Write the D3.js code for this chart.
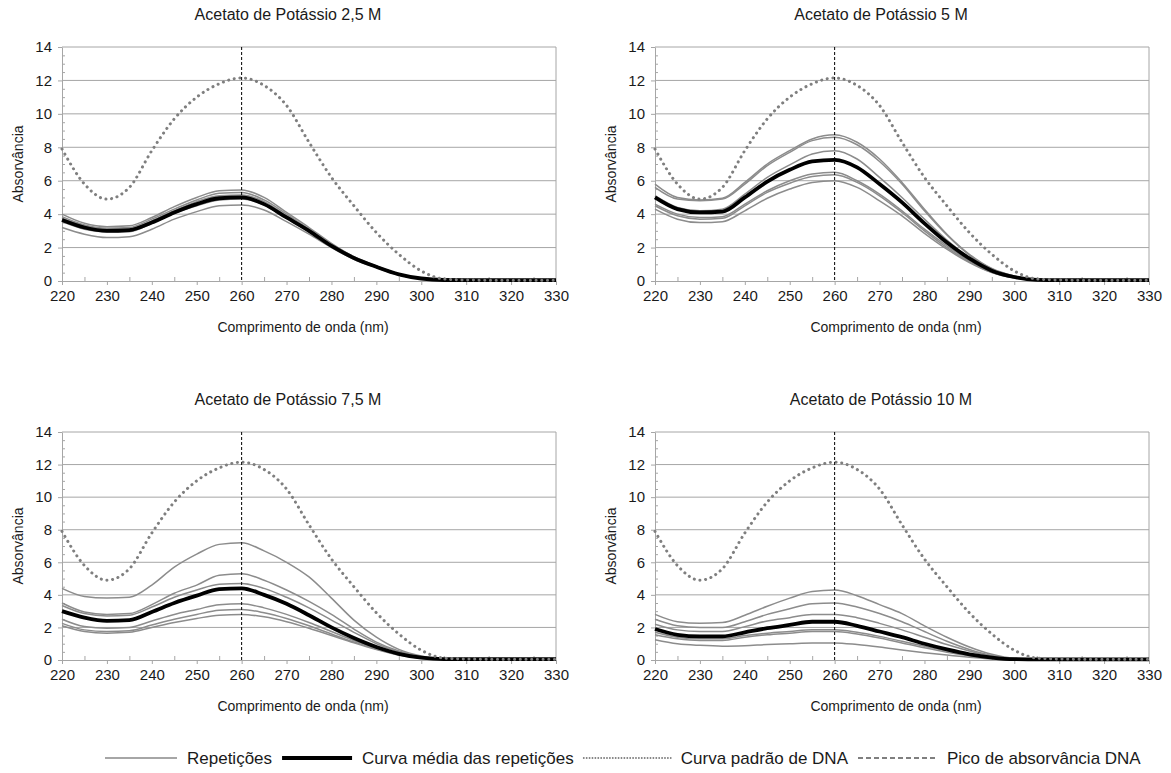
<!DOCTYPE html>
<html>
<head>
<meta charset="utf-8">
<script src="https://cdn.jsdelivr.net/npm/d3@7"></script>
<style>
  body { margin: 0; background: #fff; }
  svg { display: block; }
  text { font-family: "Liberation Sans", Arial, sans-serif; fill: #1a1a1a; }
</style>
</head>
<body>
<svg id="chart" width="1171" height="773"></svg>
<script>
// Wavelength grid (nm) and axis ticks
const wavelengths = [220, 225, 230, 235, 240, 245, 250, 255, 260, 265, 270, 275,
                     280, 285, 290, 295, 300, 305, 310, 315, 320, 325, 330];
const xTicks = [220, 230, 240, 250, 260, 270, 280, 290, 300, 310, 320, 330];
const yTicks = [0, 2, 4, 6, 8, 10, 12, 14];
const peakWavelength = 260;

// DNA standard absorbance curve (same in every panel)
const dnaStandard = [7.9, 5.8, 4.9, 5.6, 7.8, 9.7, 11.0, 11.8, 12.15, 11.7, 10.5, 8.3,
                     6.2, 4.5, 2.9, 1.6, 0.6, 0.12, 0.06, 0.05, 0.05, 0.05, 0.05];

// Potassium acetate 2.5 M
const reps25 = [
  [4.0, 3.45, 3.25, 3.3, 3.8, 4.45, 5.0, 5.4, 5.45, 5.0, 4.1, 3.2, 2.25, 1.45, 0.9, 0.42, 0.16, 0.06, 0.05, 0.05, 0.05, 0.05, 0.05],
  [3.85, 3.35, 3.15, 3.2, 3.7, 4.3, 4.85, 5.25, 5.3, 4.85, 4.0, 3.1, 2.2, 1.42, 0.88, 0.41, 0.15, 0.06, 0.05, 0.05, 0.05, 0.05, 0.05],
  [3.75, 3.3, 3.1, 3.1, 3.6, 4.2, 4.75, 5.1, 5.15, 4.75, 3.9, 3.05, 2.15, 1.4, 0.86, 0.4, 0.15, 0.06, 0.05, 0.05, 0.05, 0.05, 0.05],
  [3.55, 3.1, 2.95, 2.95, 3.45, 4.05, 4.5, 4.85, 4.9, 4.55, 3.75, 2.95, 2.05, 1.35, 0.83, 0.38, 0.14, 0.05, 0.05, 0.05, 0.05, 0.05, 0.05],
  [3.2, 2.8, 2.6, 2.65, 3.1, 3.7, 4.15, 4.5, 4.55, 4.25, 3.55, 2.8, 2.0, 1.3, 0.8, 0.36, 0.13, 0.05, 0.04, 0.04, 0.04, 0.04, 0.04]
];
const mean25 = [3.65, 3.2, 3.0, 3.05, 3.5, 4.1, 4.6, 4.95, 5.0, 4.6, 3.8, 3.0, 2.1, 1.38, 0.85, 0.4, 0.15, 0.06, 0.05, 0.05, 0.05, 0.05, 0.05];

// Potassium acetate 5 M
const reps5 = [
  [5.8, 5.0, 4.85, 4.95, 5.9, 7.0, 7.8, 8.5, 8.75, 8.3, 7.3, 5.9, 4.3, 2.8, 1.6, 0.75, 0.3, 0.08, 0.05, 0.05, 0.05, 0.05, 0.05],
  [5.6, 4.9, 4.8, 4.9, 5.8, 6.9, 7.7, 8.4, 8.6, 8.15, 7.15, 5.8, 4.2, 2.75, 1.55, 0.72, 0.28, 0.08, 0.05, 0.05, 0.05, 0.05, 0.05],
  [5.1, 4.4, 4.2, 4.3, 5.2, 6.2, 6.95, 7.6, 7.8, 7.3, 6.2, 5.0, 3.7, 2.45, 1.4, 0.65, 0.25, 0.07, 0.05, 0.05, 0.05, 0.05, 0.05],
  [4.6, 4.0, 3.8, 3.85, 4.6, 5.4, 6.0, 6.4, 6.5, 6.0, 5.2, 4.2, 3.1, 2.1, 1.2, 0.55, 0.2, 0.06, 0.05, 0.05, 0.05, 0.05, 0.05],
  [4.5, 3.9, 3.7, 3.75, 4.5, 5.3, 5.85, 6.25, 6.35, 5.9, 5.1, 4.1, 3.0, 2.0, 1.15, 0.52, 0.2, 0.06, 0.05, 0.05, 0.05, 0.05, 0.05],
  [4.3, 3.7, 3.5, 3.55, 4.2, 4.95, 5.5, 5.9, 6.0, 5.6, 4.8, 3.9, 2.85, 1.9, 1.1, 0.5, 0.18, 0.05, 0.04, 0.04, 0.04, 0.04, 0.04]
];
const mean5 = [5.0, 4.3, 4.1, 4.15, 5.0, 5.95, 6.65, 7.15, 7.25, 6.8, 5.8, 4.7, 3.45, 2.3, 1.35, 0.62, 0.24, 0.07, 0.05, 0.05, 0.05, 0.05, 0.05];

// Potassium acetate 7.5 M
const reps75 = [
  [4.4, 3.9, 3.8, 3.85, 4.6, 5.7, 6.5, 7.1, 7.2, 6.7, 6.0, 5.1, 3.8, 2.45, 1.4, 0.65, 0.25, 0.07, 0.05, 0.05, 0.05, 0.05, 0.05],
  [3.5, 2.95, 2.8, 2.85, 3.4, 4.1, 4.6, 5.2, 5.3, 4.9, 4.3, 3.6, 2.8, 1.9, 1.1, 0.55, 0.2, 0.06, 0.05, 0.05, 0.05, 0.05, 0.05],
  [3.35, 2.85, 2.7, 2.75, 3.25, 3.85, 4.3, 4.65, 4.7, 4.4, 3.85, 3.2, 2.45, 1.7, 1.0, 0.5, 0.18, 0.06, 0.05, 0.05, 0.05, 0.05, 0.05],
  [2.5, 2.05, 1.95, 2.0, 2.4, 2.8, 3.1, 3.4, 3.45, 3.2, 2.8, 2.3, 1.75, 1.2, 0.75, 0.35, 0.13, 0.05, 0.04, 0.04, 0.04, 0.04, 0.04],
  [2.25, 1.85, 1.75, 1.8, 2.15, 2.5, 2.8, 3.05, 3.1, 2.9, 2.55, 2.1, 1.6, 1.1, 0.68, 0.32, 0.12, 0.05, 0.04, 0.04, 0.04, 0.04, 0.04],
  [2.1, 1.75, 1.65, 1.7, 2.0, 2.3, 2.55, 2.75, 2.8, 2.65, 2.35, 1.95, 1.5, 1.05, 0.64, 0.3, 0.11, 0.04, 0.04, 0.04, 0.04, 0.04, 0.04]
];
const mean75 = [3.0, 2.6, 2.4, 2.45, 2.95, 3.5, 3.95, 4.35, 4.4, 4.0, 3.45, 2.75, 2.0, 1.35, 0.8, 0.38, 0.14, 0.05, 0.05, 0.05, 0.05, 0.05, 0.05];

// Potassium acetate 10 M
const reps10 = [
  [2.8, 2.35, 2.25, 2.3, 2.75, 3.3, 3.8, 4.2, 4.3, 3.95, 3.4, 2.85, 2.1, 1.4, 0.8, 0.35, 0.1, 0.05, 0.04, 0.04, 0.04, 0.04, 0.04],
  [2.5, 2.1, 2.0, 2.0, 2.35, 2.8, 3.15, 3.45, 3.5, 3.25, 2.85, 2.35, 1.75, 1.15, 0.65, 0.28, 0.08, 0.04, 0.04, 0.04, 0.04, 0.04, 0.04],
  [2.2, 1.85, 1.75, 1.75, 2.05, 2.4, 2.6, 2.8, 2.8, 2.6, 2.25, 1.85, 1.4, 0.95, 0.55, 0.24, 0.07, 0.04, 0.04, 0.04, 0.04, 0.04, 0.04],
  [1.7, 1.4, 1.3, 1.3, 1.5, 1.65, 1.75, 1.85, 1.85, 1.7, 1.45, 1.15, 0.85, 0.55, 0.3, 0.12, 0.04, 0.03, 0.03, 0.03, 0.03, 0.03, 0.03],
  [1.55, 1.3, 1.2, 1.2, 1.4, 1.55, 1.65, 1.75, 1.75, 1.6, 1.35, 1.05, 0.75, 0.48, 0.26, 0.1, 0.04, 0.03, 0.03, 0.03, 0.03, 0.03, 0.03],
  [1.25, 1.0, 0.9, 0.85, 0.88, 0.95, 1.0, 1.05, 1.05, 0.95, 0.8, 0.62, 0.45, 0.3, 0.17, 0.07, 0.03, 0.03, 0.03, 0.03, 0.03, 0.03, 0.03]
];
const mean10 = [1.9, 1.55, 1.45, 1.45, 1.7, 1.95, 2.15, 2.35, 2.35, 2.1, 1.75, 1.4, 1.0, 0.65, 0.35, 0.15, 0.05, 0.04, 0.04, 0.04, 0.04, 0.04, 0.04];

const panelTitles = ["Acetato de Potássio 2,5 M", "Acetato de Potássio 5 M",
                     "Acetato de Potássio 7,5 M", "Acetato de Potássio 10 M"];
const legendLabels = ["Repetições", "Curva média das repetições",
                      "Curva padrão de DNA", "Pico de absorvância DNA"];

// Layout of the four panels (plot-area boxes in px)
const layout = [
  { left: 62,  right: 556,  top: 47,  bottom: 281 },
  { left: 655, right: 1149, top: 47,  bottom: 281 },
  { left: 62,  right: 556,  top: 432, bottom: 660 },
  { left: 655, right: 1149, top: 432, bottom: 660 }
];
const panelData = [
  { reps: reps25, mean: mean25 },
  { reps: reps5,  mean: mean5 },
  { reps: reps75, mean: mean75 },
  { reps: reps10, mean: mean10 }
];

const GRID = "#a6a6a6";
const REP = "#8c8c8c";
const DNA = "#7f7f7f";
const FONT = '"Liberation Sans", Arial, sans-serif';

const svg = d3.select("#chart");

panelData.forEach((pd, i) => {
  const box = layout[i];
  const x = d3.scaleLinear().domain([220, 330]).range([box.left, box.right]);
  const y = d3.scaleLinear().domain([0, 14]).range([box.bottom, box.top]);
  const g = svg.append("g");

  // horizontal gridlines
  g.append("g").selectAll("line")
    .data(yTicks.filter(v => v > 0))
    .join("line")
    .attr("x1", box.left).attr("x2", box.right)
    .attr("y1", d => y(d)).attr("y2", d => y(d))
    .attr("stroke", GRID).attr("stroke-width", 1);

  // right frame edge
  g.append("line")
    .attr("x1", box.right).attr("x2", box.right)
    .attr("y1", box.top).attr("y2", box.bottom)
    .attr("stroke", GRID).attr("stroke-width", 1);

  // minor ticks (inside the plot)
  const minorX = d3.range(225, 330, 10);
  const minorY = d3.range(0.5, 14, 0.5).filter(v => v % 2 !== 0);
  g.append("g")
    .attr("transform", `translate(0,${box.bottom})`)
    .call(d3.axisBottom(x).tickValues(minorX).tickSize(-4).tickFormat(""))
    .call(a => a.select(".domain").remove())
    .call(a => a.selectAll("line").attr("stroke", GRID));
  g.append("g")
    .attr("transform", `translate(${box.left},0)`)
    .call(d3.axisLeft(y).tickValues(minorY).tickSize(-3).tickFormat(""))
    .call(a => a.select(".domain").remove())
    .call(a => a.selectAll("line").attr("stroke", GRID));

  // main axes
  const xa = g.append("g")
    .attr("transform", `translate(0,${box.bottom})`)
    .call(d3.axisBottom(x).tickValues(xTicks).tickSize(4).tickSizeOuter(0).tickPadding(5));
  const ya = g.append("g")
    .attr("transform", `translate(${box.left},0)`)
    .call(d3.axisLeft(y).tickValues(yTicks).tickSize(4).tickSizeOuter(0).tickPadding(6));
  [xa, ya].forEach(a => {
    a.select(".domain").attr("stroke", GRID);
    a.selectAll(".tick line").attr("stroke", GRID);
    a.selectAll(".tick text")
      .style("font-family", FONT)
      .style("font-size", "15px").attr("fill", "#1a1a1a");
  });

  const line = d3.line()
    .x((d, k) => x(wavelengths[k]))
    .y(d => y(d))
    .curve(d3.curveMonotoneX);

  // replicate curves
  g.append("g").selectAll("path")
    .data(pd.reps)
    .join("path")
    .attr("d", line)
    .attr("fill", "none")
    .attr("stroke", REP)
    .attr("stroke-width", 1.5);

  // mean curve
  g.append("path")
    .attr("d", line(pd.mean))
    .attr("fill", "none")
    .attr("stroke", "#000")
    .attr("stroke-width", 3.8)
    .attr("stroke-linejoin", "round");

  // DNA standard curve (dotted)
  g.append("path")
    .attr("d", line(dnaStandard))
    .attr("fill", "none")
    .attr("stroke", DNA)
    .attr("stroke-width", 3)
    .attr("stroke-linecap", "round")
    .attr("stroke-dasharray", "0.1 5.6");

  // DNA absorbance peak marker
  g.append("line")
    .attr("x1", x(peakWavelength)).attr("x2", x(peakWavelength))
    .attr("y1", y(14)).attr("y2", y(0))
    .attr("stroke", "#000")
    .attr("stroke-width", 1)
    .attr("stroke-dasharray", "3 2");

  // titles
  g.append("text")
    .attr("x", box.left + 226).attr("y", box.top - 27)
    .attr("text-anchor", "middle")
    .style("font-size", "16px")
    .text(panelTitles[i]);
  g.append("text")
    .attr("x", box.left + 241).attr("y", box.bottom + 51)
    .attr("text-anchor", "middle")
    .style("font-size", "14px")
    .text("Comprimento de onda (nm)");
  g.append("text")
    .attr("transform", `translate(${box.left - 39},${(box.top + box.bottom) / 2}) rotate(-90)`)
    .attr("text-anchor", "middle")
    .style("font-size", "14px")
    .text("Absorvância");
});

// legend
const legendStyles = [
  { stroke: "#a6a6a6", width: 2,   dash: null,      cap: "butt",  len: 72 },
  { stroke: "#000",    width: 4,   dash: null,      cap: "butt",  len: 70 },
  { stroke: DNA,       width: 1.8, dash: "0.1 2.8", cap: "round", len: 87 },
  { stroke: "#000",    width: 1.2, dash: "5 3",     cap: "butt",  len: 79 }
];
const legend = svg.append("g");
const legendY = 758;
let cx = 105;
legendLabels.forEach((lab, i) => {
  const st = legendStyles[i];
  legend.append("line")
    .attr("x1", cx).attr("x2", cx + st.len)
    .attr("y1", legendY).attr("y2", legendY)
    .attr("stroke", st.stroke).attr("stroke-width", st.width)
    .attr("stroke-linecap", st.cap)
    .attr("stroke-dasharray", st.dash);
  const t = legend.append("text")
    .attr("x", cx + st.len + 10).attr("y", legendY + 6)
    .style("font-size", "17px")
    .text(lab);
  cx += st.len + 10 + t.node().getComputedTextLength() + 10;
});
</script>
</body>
</html>
